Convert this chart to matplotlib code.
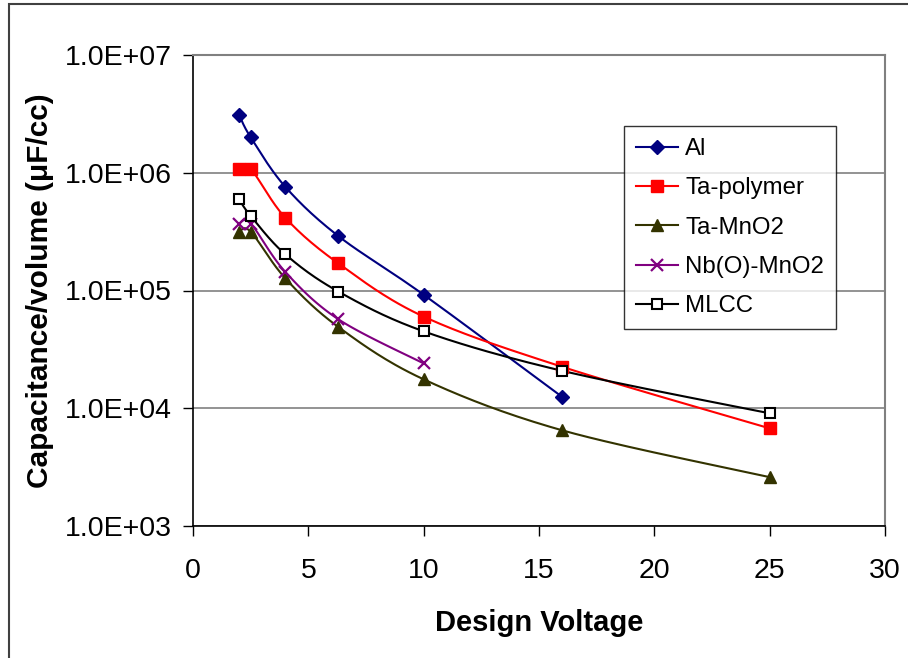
import numpy as np
import matplotlib
matplotlib.use("Agg")
import matplotlib.pyplot as plt
from matplotlib.patches import Rectangle

plt.rcParams["font.family"] = ["Liberation Sans", "DejaVu Sans"]

# 数据:设计电压 vs 单位体积电容 (uF/cc)
volts = [2, 2.5, 4, 6.3, 10, 16, 25]
al = [3.1e6, 2.0e6, 7.6e5, 2.9e5, 9.2e4, 1.25e4]
ta_poly = [1.08e6, 1.08e6, 4.15e5, 1.70e5, 6.0e4, 2.25e4, 6.75e3]
ta_mno2 = [3.16e5, 3.16e5, 1.27e5, 4.9e4, 1.76e4, 6.5e3, 2.6e3]
nb_mno2 = [3.7e5, 3.7e5, 1.44e5, 5.7e4, 2.4e4]
mlcc = [5.95e5, 4.3e5, 2.03e5, 9.8e4, 4.5e4, 2.08e4, 9.06e3]

series = [
    ("Al", al, "#000080", dict(marker="D", ms=7.5, mfc="#000080", mec="#000080")),
    ("Ta-polymer", ta_poly, "#FF0000", dict(marker="s", ms=8, mfc="#FF0000", mec="#FF0000")),
    ("Ta-MnO2", ta_mno2, "#333300", dict(marker="^", ms=8.5, mfc="#333300", mec="#333300")),
    ("Nb(O)-MnO2", nb_mno2, "#800080", dict(marker="x", ms=9, mew=1.6, mec="#800080")),
    ("MLCC", mlcc, "#000000", dict(marker="s", ms=7.5, mew=1.5, mfc="white", mec="#000000")),
]


def smooth(xs, ys, n=30):
    """Excel 式平滑线:在 (x, log y) 空间做 Catmull-Rom 贝塞尔。"""
    p = np.column_stack([xs, np.log10(ys)])
    out = []
    m = len(p)
    for i in range(m - 1):
        p0 = p[max(i - 1, 0)]
        p1, p2 = p[i], p[i + 1]
        p3 = p[min(i + 2, m - 1)]
        c1 = p1 + (p2 - p0) / 6.0
        c2 = p2 - (p3 - p1) / 6.0
        t = np.linspace(0, 1, n)[:, None]
        seg = ((1 - t) ** 3) * p1 + 3 * ((1 - t) ** 2) * t * c1 \
            + 3 * (1 - t) * t ** 2 * c2 + t ** 3 * p2
        out.append(seg if i == 0 else seg[1:])
    s = np.vstack(out)
    return s[:, 0], 10 ** s[:, 1]


fig = plt.figure(figsize=(9.08, 6.58), dpi=100)
fig.patch.set_facecolor("white")
ax = fig.add_axes([193 / 908, 1 - 526 / 658, 692 / 908, 471 / 658])

for name, vals, col, mk in series:
    xs = volts[:len(vals)]
    sx, sy = smooth(xs, vals)
    ax.plot(sx, sy, color=col, lw=1.5, zorder=3)
    ax.plot(xs, vals, ls="none", zorder=4, **mk)
    ax.plot([], [], color=col, lw=1.5, label=name, **mk)

ax.set_yscale("log")
ax.set_ylim(1e3, 1e7)
ax.set_xlim(0, 30)
ax.set_xticks(range(0, 31, 5))
ax.set_yticks([1e3, 1e4, 1e5, 1e6, 1e7])
ax.set_yticklabels(["1.0E+03", "1.0E+04", "1.0E+05", "1.0E+06", "1.0E+07"])
ax.yaxis.set_minor_locator(matplotlib.ticker.NullLocator())
ax.grid(axis="y", which="major", color="#808080", lw=1.2)
ax.set_axisbelow(True)
ax.tick_params(axis="both", labelsize=20.5, direction="out", length=7,
               width=1, color="#000000")
ax.tick_params(axis="x", pad=16)
ax.tick_params(axis="y", pad=8)

for side in ("left", "bottom"):
    ax.spines[side].set_color("#000000")
    ax.spines[side].set_linewidth(1.2)
for side in ("top", "right"):
    ax.spines[side].set_color("#808080")
    ax.spines[side].set_linewidth(1.5)

ax.set_xlabel("Design Voltage", fontsize=21, fontweight="bold")
ax.xaxis.set_label_coords(0.5, -0.177)
ax.set_ylabel("Capacitance/volume (\u03bcF/cc)", fontsize=21.5, fontweight="bold")
ax.yaxis.set_label_coords(-0.201, 0.5)

leg = ax.legend(loc="upper left", bbox_to_anchor=((624 - 193) / 692, 1 - (126 - 55) / 471),
                frameon=True, fancybox=False, fontsize=17.3, handlelength=1.75,
                borderpad=0.5, labelspacing=0.72, handletextpad=0.3,
                borderaxespad=0)
leg.get_frame().set_edgecolor("#000000")
leg.get_frame().set_linewidth(1.0)

# 外框
fig.patches.append(Rectangle((9 / 908, -0.02), 1.0, 1 - 4 / 658 + 0.02,
                             transform=fig.transFigure, fill=False,
                             ec="#404040", lw=1.5))

fig.savefig("out.png", dpi=100, facecolor="white")
